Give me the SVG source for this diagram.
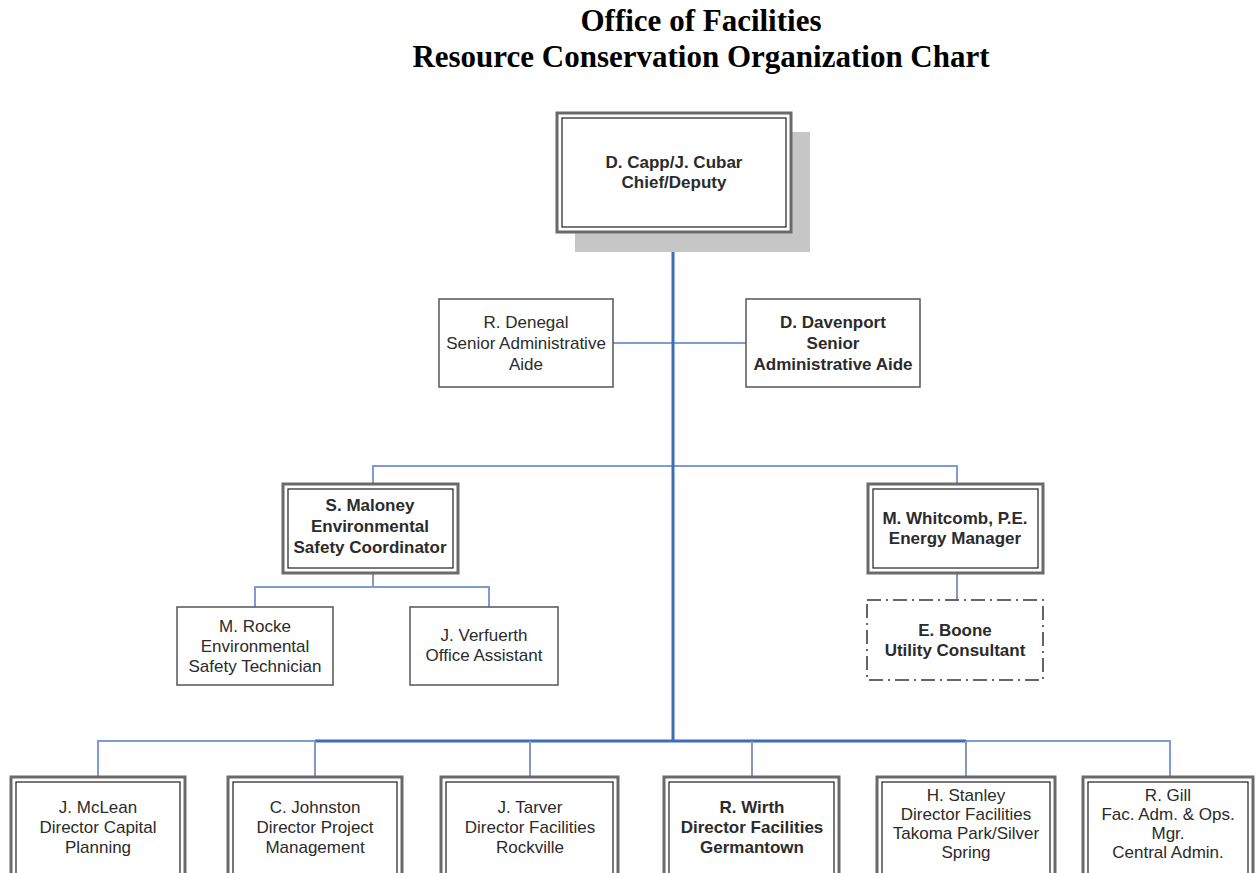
<svg xmlns="http://www.w3.org/2000/svg" width="1256" height="873" viewBox="0 0 1256 873">
<style>
.title{font-family:"Liberation Serif","Times New Roman",serif;font-weight:bold;font-size:31px;fill:#000;text-anchor:middle}
.t{font-family:"Liberation Sans",Arial,sans-serif;font-size:17px;fill:#2b2b2b;text-anchor:middle}
.b{font-weight:bold}
.outer{fill:#fff;stroke:#6a6a6a;stroke-width:3}
.inner{fill:none;stroke:#1e1e1e;stroke-width:1.2}
.single{fill:#fff;stroke:#555;stroke-width:1.5}
.dash{fill:#fff;stroke:#666;stroke-width:2;stroke-dasharray:14 5 2 5}
.trunk{stroke:#3d6db5;stroke-width:3;fill:none}
.branch{stroke:#7f9bd0;stroke-width:2;fill:none}
.drop{stroke:#8797bd;stroke-width:2;fill:none}
</style>
<rect width="1256" height="873" fill="#fff"/>
<g id="title">
<text class="title" x="701" y="31">Office of Facilities</text>
<text class="title" x="701" y="67">Resource Conservation Organization Chart</text>
</g>
<g id="connectors">
<line class="branch" x1="613" y1="343" x2="746" y2="343"/>
<polyline class="branch" points="373,484 373,466 957,466 957,484"/>
<line class="drop" x1="373" y1="573" x2="373" y2="587"/>
<polyline class="branch" points="255,607 255,587 489,587 489,607"/>
<line class="drop" x1="957" y1="573" x2="957" y2="600"/>
<polyline class="branch" points="98,777 98,741 315,741"/>
<polyline class="branch" points="966,741 1170,741 1170,777"/>
<line class="trunk" x1="315" y1="741" x2="966" y2="741"/>
<line class="drop" x1="315" y1="741" x2="315" y2="777"/>
<line class="drop" x1="530" y1="741" x2="530" y2="777"/>
<line class="drop" x1="752" y1="741" x2="752" y2="777"/>
<line class="drop" x1="966" y1="741" x2="966" y2="777"/>
<line class="trunk" x1="673" y1="232" x2="673" y2="742"/>
</g>
<g id="chief">
<rect x="575" y="132" width="235" height="120" fill="#c6c6c6"/>
<rect class="outer" x="557" y="113" width="234" height="119"/>
<rect class="inner" x="562" y="118" width="224" height="109"/>
<text class="t b" x="674" y="168">D. Capp/J. Cubar</text>
<text class="t b" x="674" y="188">Chief/Deputy</text>
</g>
<g id="denegal">
<rect class="single" x="439" y="299" width="174" height="88"/>
<text class="t" x="526" y="328">R. Denegal</text>
<text class="t" x="526" y="349">Senior Administrative</text>
<text class="t" x="526" y="370">Aide</text>
</g>
<g id="davenport">
<rect class="single" x="746" y="299" width="174" height="88" stroke-width="2"/>
<text class="t b" x="833" y="328">D. Davenport</text>
<text class="t b" x="833" y="349">Senior</text>
<text class="t b" x="833" y="370">Administrative Aide</text>
</g>
<g id="maloney">
<rect class="outer" x="283" y="484" width="175" height="89"/>
<rect class="inner" x="288" y="489" width="165" height="79"/>
<text class="t b" x="370" y="511">S. Maloney</text>
<text class="t b" x="370" y="532">Environmental</text>
<text class="t b" x="370" y="553">Safety Coordinator</text>
</g>
<g id="whitcomb">
<rect class="outer" x="868" y="484" width="175" height="89"/>
<rect class="inner" x="873" y="489" width="165" height="79"/>
<text class="t b" x="955" y="524">M. Whitcomb, P.E.</text>
<text class="t b" x="955" y="544">Energy Manager</text>
</g>
<g id="rocke">
<rect class="single" x="177" y="607" width="156" height="78"/>
<text class="t" x="255" y="632">M. Rocke</text>
<text class="t" x="255" y="652">Environmental</text>
<text class="t" x="255" y="672">Safety Technician</text>
</g>
<g id="verfuerth">
<rect class="single" x="410" y="607" width="148" height="78"/>
<text class="t" x="484" y="641">J. Verfuerth</text>
<text class="t" x="484" y="661">Office Assistant</text>
</g>
<g id="boone">
<rect class="dash" x="867" y="600" width="176" height="80"/>
<text class="t b" x="955" y="636">E. Boone</text>
<text class="t b" x="955" y="656">Utility Consultant</text>
</g>
<g id="mclean">
<rect class="outer" x="11" y="777" width="174" height="100"/>
<rect class="inner" x="16" y="782" width="164" height="100"/>
<text class="t" x="98" y="813">J. McLean</text>
<text class="t" x="98" y="833">Director Capital</text>
<text class="t" x="98" y="853">Planning</text>
</g>
<g id="johnston">
<rect class="outer" x="228" y="777" width="174" height="100"/>
<rect class="inner" x="233" y="782" width="164" height="100"/>
<text class="t" x="315" y="813">C. Johnston</text>
<text class="t" x="315" y="833">Director Project</text>
<text class="t" x="315" y="853">Management</text>
</g>
<g id="tarver">
<rect class="outer" x="441" y="777" width="177" height="100"/>
<rect class="inner" x="446" y="782" width="167" height="100"/>
<text class="t" x="530" y="813">J. Tarver</text>
<text class="t" x="530" y="833">Director Facilities</text>
<text class="t" x="530" y="853">Rockville</text>
</g>
<g id="wirth">
<rect class="outer" x="664" y="777" width="175" height="100"/>
<rect class="inner" x="669" y="782" width="165" height="100"/>
<text class="t b" x="752" y="813">R. Wirth</text>
<text class="t b" x="752" y="833">Director Facilities</text>
<text class="t b" x="752" y="853">Germantown</text>
</g>
<g id="stanley">
<rect class="outer" x="877" y="777" width="178" height="100"/>
<rect class="inner" x="882" y="782" width="168" height="100"/>
<text class="t" x="966" y="801">H. Stanley</text>
<text class="t" x="966" y="820">Director Facilities</text>
<text class="t" x="966" y="839">Takoma Park/Silver</text>
<text class="t" x="966" y="858">Spring</text>
</g>
<g id="gill">
<rect class="outer" x="1083" y="777" width="170" height="100"/>
<rect class="inner" x="1088" y="782" width="160" height="100"/>
<text class="t" x="1168" y="801">R. Gill</text>
<text class="t" x="1168" y="820">Fac. Adm. &amp; Ops.</text>
<text class="t" x="1168" y="839">Mgr.</text>
<text class="t" x="1168" y="858">Central Admin.</text>
</g>
</svg>
